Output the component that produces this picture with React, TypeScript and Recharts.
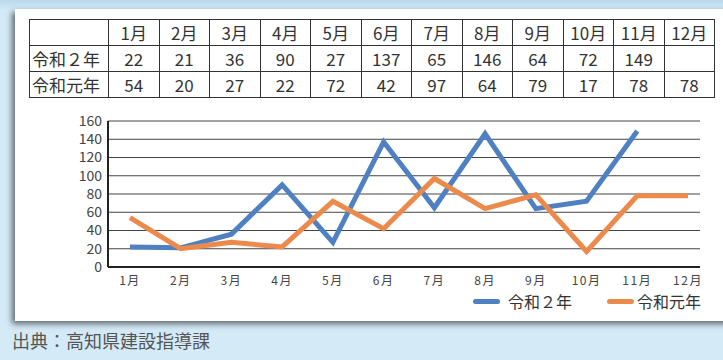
import React from 'react';
import { LineChart, Line, XAxis, YAxis, CartesianGrid, Legend } from 'recharts';

const MONTHS = ['1月', '2月', '3月', '4月', '5月', '6月', '7月', '8月', '9月', '10月', '11月', '12月'];
const SERIES_NAMES = ['令和２年', '令和元年'];
const REIWA2 = [22, 21, 36, 90, 27, 137, 65, 146, 64, 72, 149, null];
const REIWA1 = [54, 20, 27, 22, 72, 42, 97, 64, 79, 17, 78, 78];
const Y_TICKS = [0, 20, 40, 60, 80, 100, 120, 140, 160];

const COLORS = ['#4f81c2', '#ec8a4c'];
const FONT = "'Noto Sans CJK JP', 'Noto Sans', sans-serif";

const chartData = MONTHS.map((m, i) => ({ month: m, r2: REIWA2[i], r1: REIWA1[i] }));

const cell: React.CSSProperties = {
  border: '1px solid #333',
  padding: 0,
  height: 25,
  textAlign: 'center',
  fontSize: 17,
  color: '#333',
  lineHeight: '25px',
};

function LegendBox() {
  return (
    <div style={{ position: 'relative', width: 723, height: 24, fontFamily: FONT }}>
      {SERIES_NAMES.map((name, i) => (
        <div key={name} style={{
          position: 'absolute', left: i === 0 ? 473 : 607, top: 0, whiteSpace: 'nowrap',
          display: 'flex', alignItems: 'center', height: 24,
        }}>
          <div style={{ width: 27, height: 5, borderRadius: 3, background: COLORS[i], marginRight: i === 0 ? 8 : 3 }} />
          <span style={{ fontSize: 16, color: '#333' }}>{name}</span>
        </div>
      ))}
    </div>
  );
}

export default function App() {
  return (
    <div style={{
      position: 'absolute', left: 0, top: 0, width: 723, height: 360, overflow: 'hidden',
      background: 'linear-gradient(#b9d8eb 0px, #d4eaf7 10px, #d4eaf7 100%)',
      fontFamily: FONT,
    }}>
      {/* white panel */}
      <div style={{
        position: 'absolute', left: 15, top: 9, width: 740, height: 312,
        background: '#fff', boxShadow: '-3px 3px 6px rgba(0,0,0,0.55)',
      }} />

      {/* data table */}
      <table style={{
        position: 'absolute', left: 29, top: 19, borderCollapse: 'collapse',
        tableLayout: 'fixed', width: 685, fontFamily: FONT,
      }}>
        <colgroup>
          <col style={{ width: 79 }} />
          {MONTHS.map(m => <col key={m} style={{ width: 50.5 }} />)}
        </colgroup>
        <tbody>
          <tr>
            <td style={cell}></td>
            {MONTHS.map(m => <td key={m} style={cell}>{m}</td>)}
          </tr>
          <tr>
            <td style={{ ...cell, textAlign: 'left', paddingLeft: 2 }}>{SERIES_NAMES[0]}</td>
            {REIWA2.map((v, i) => <td key={i} style={cell}>{v ?? ''}</td>)}
          </tr>
          <tr>
            <td style={{ ...cell, textAlign: 'left', paddingLeft: 2 }}>{SERIES_NAMES[1]}</td>
            {REIWA1.map((v, i) => <td key={i} style={cell}>{v}</td>)}
          </tr>
        </tbody>
      </table>

      {/* chart */}
      <div style={{ position: 'absolute', left: 0, top: 100 }}>
        <LineChart width={723} height={220} data={chartData}
          margin={{ top: 21, right: 23, bottom: 7, left: 0 }}>
          <CartesianGrid vertical={false} stroke="#444" strokeWidth={1} />
          <XAxis dataKey="month" padding={{ left: 22, right: 12 }} height={22}
            axisLine={{ stroke: '#222', strokeWidth: 2 }} tickLine={false}
            tickSize={6} tickMargin={3} interval={0}
            tick={{ fontSize: 12, fill: '#444', letterSpacing: 1.5, fontFamily: FONT }} />
          <YAxis width={108} domain={[0, 160]} ticks={Y_TICKS} interval={0}
            axisLine={{ stroke: '#222', strokeWidth: 2 }} tickLine={false}
            tickSize={4} tickMargin={2}
            tick={{ fontSize: 14, fill: '#444', fontFamily: FONT }} />
          <Legend verticalAlign="bottom" height={24} wrapperStyle={{ left: 0, width: 723 }}
            content={() => <LegendBox />} />
          <Line dataKey="r2" name={SERIES_NAMES[0]} stroke={COLORS[0]} strokeWidth={5}
            dot={false} isAnimationActive={false} />
          <Line dataKey="r1" name={SERIES_NAMES[1]} stroke={COLORS[1]} strokeWidth={5}
            dot={false} isAnimationActive={false} />
        </LineChart>
      </div>

      <div style={{
        position: 'absolute', left: 12, top: 329, fontSize: 18, color: '#555', lineHeight: '22px',
      }}>出典：高知県建設指導課</div>
    </div>
  );
}
